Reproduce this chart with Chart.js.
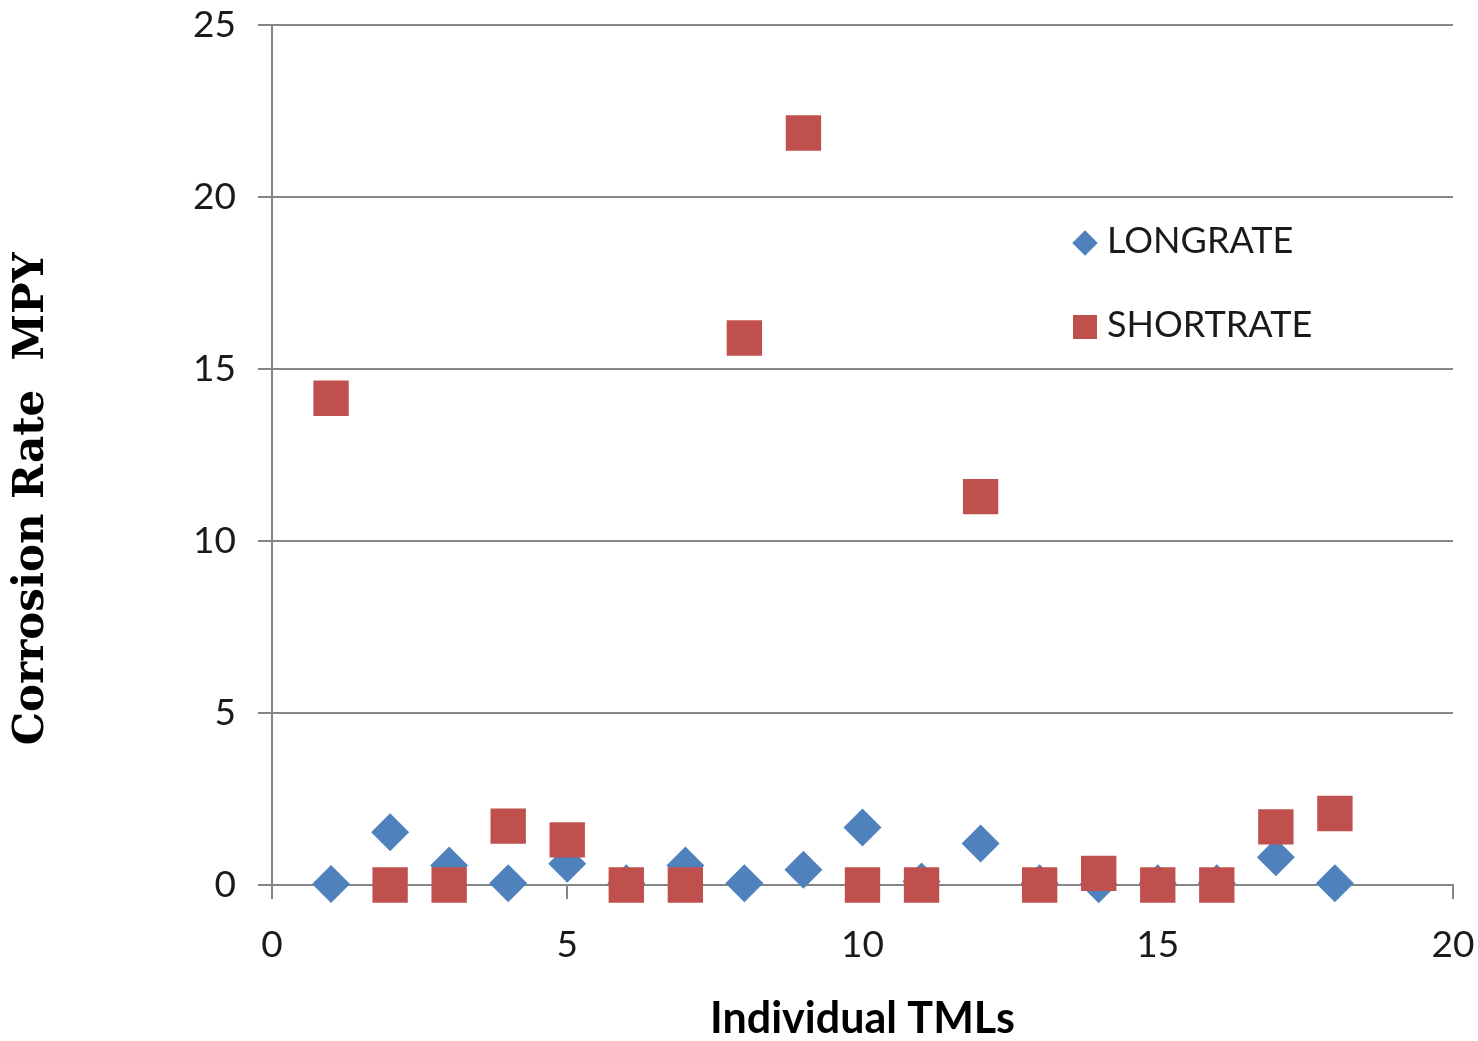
<!DOCTYPE html>
<html>
<head>
<meta charset="utf-8">
<script src="https://cdn.jsdelivr.net/npm/chart.js@4/dist/chart.umd.min.js"></script>
<style>
    html, body { margin: 0; padding: 0; background: #ffffff; }
    #wrap { position: relative; width: 1478px; height: 1041px; }
    .legend { position: absolute; left: 1073px; font-family: Lato, 'Open Sans', sans-serif; font-size: 36px; color: #1a1a1a; line-height: 40px; }
    .legend .mark { display: inline-block; width: 24px; height: 24px; margin-right: 10px; vertical-align: -2px; }
    .legend .diamond { transform: rotate(45deg) scale(0.75); background: #4f81bd; }
    .legend .square { background: #c0504d; }
</style>
</head>
<body>
<div id="wrap">
    <canvas id="corrosionChart"></canvas>
    <div class="legend" style="top: 219px;"><span class="mark diamond"></span>LONGRATE</div>
    <div class="legend" style="top: 303px;"><span class="mark square"></span>SHORTRATE</div>
</div>
<script>
// TML номера и скорости коррозии (MPY)
const tmls = [1, 2, 3, 4, 5, 6, 7, 8, 9, 10, 11, 12, 13, 14, 15, 16, 17, 18];
const longRate = [0.03, 1.53, 0.57, 0.05, 0.62, 0.05, 0.57, 0.05, 0.44, 1.67, 0.1, 1.21, 0.05, 0.02, 0.05, 0.05, 0.81, 0.05];
const shortRate = [14.15, 0, 0, 1.71, 1.31, 0, 0, 15.9, 21.86, 0, 0, 11.29, 0, 0.34, 0, 0, 1.69, 2.08];
const xTicks = [0, 5, 10, 15, 20];
const yTicks = [0, 5, 10, 15, 20, 25];

const toPoints = (xs, ys) => xs.map((x, i) => ({ x: x, y: ys[i] }));

const tickFont = { family: 'Lato, "Open Sans", sans-serif', size: 37 };

new Chart(document.getElementById('corrosionChart').getContext('2d'), {
    type: 'scatter',
    data: {
        datasets: [
            {
                label: 'LONGRATE',
                data: toPoints(tmls, longRate),
                pointStyle: 'rectRot',
                radius: 19,
                backgroundColor: '#4f81bd',
                borderColor: '#4f81bd',
                borderWidth: 0,
                clip: false,
                order: 2
            },
            {
                label: 'SHORTRATE',
                data: toPoints(tmls, shortRate),
                pointStyle: 'rect',
                radius: 25,
                backgroundColor: '#c0504d',
                borderColor: '#c0504d',
                borderWidth: 0,
                clip: false,
                order: 1
            }
        ]
    },
    options: {
        responsive: true,
        maintainAspectRatio: false,
        animation: false,
        layout: { padding: { top: 24, right: 25, left: 0, bottom: 0 } },
        plugins: {
            legend: { display: false },
            tooltip: { enabled: false }
        },
        scales: {
            x: {
                type: 'linear',
                min: 0,
                max: 20,
                afterFit: scale => {
                    scale.height = 156;
                    scale.paddingLeft = 0;
                    scale.paddingRight = 0;
                },
                afterBuildTicks: scale => { scale.ticks = xTicks.map(v => ({ value: v })); },
                grid: { drawOnChartArea: false, tickLength: 14, tickColor: '#868686', lineWidth: 2 },
                border: { color: '#868686', width: 2 },
                ticks: { color: '#1a1a1a', font: tickFont, padding: 24, maxRotation: 0 },
                title: {
                    display: true,
                    text: 'Individual TMLs',
                    color: '#000000',
                    font: { family: '"Liberation Sans Narrow", Lato, sans-serif', size: 43, weight: 'bold', lineHeight: 1 },
                    padding: { top: 0, bottom: 0 }
                }
            },
            y: {
                min: 0,
                max: 25,
                afterFit: scale => {
                    scale.width = 272;
                    scale.paddingTop = 0;
                    scale.paddingBottom = 0;
                },
                afterBuildTicks: scale => { scale.ticks = yTicks.map(v => ({ value: v })); },
                grid: { color: '#868686', lineWidth: 2, tickLength: 14, tickColor: '#868686' },
                border: { color: '#868686', width: 2 },
                ticks: { color: '#1a1a1a', font: tickFont, padding: 22 },
                title: {
                    display: true,
                    text: 'Corrosion Rate  MPY      ',
                    color: '#000000',
                    font: { family: '"DejaVu Serif", serif', size: 42, weight: 'bold', lineHeight: 1 },
                    padding: { top: 11, bottom: 0 }
                }
            }
        }
    }
});
</script>
</body>
</html>
